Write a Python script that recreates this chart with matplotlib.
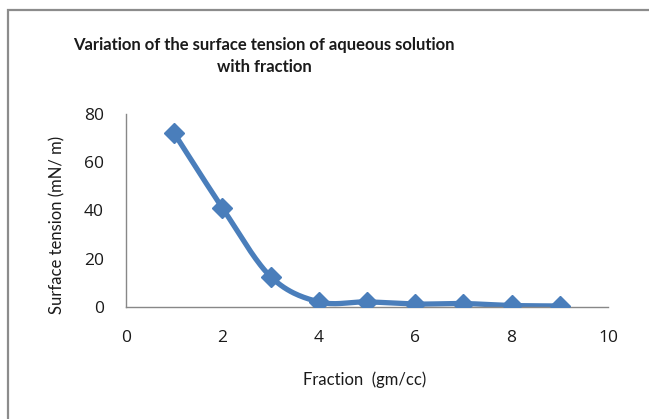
import numpy as np
import matplotlib
matplotlib.use("Agg")
import matplotlib.pyplot as plt
from matplotlib.patches import Rectangle

fraction = [1, 2, 3, 4, 5, 6, 7, 8, 9]
surface_tension = [72, 41, 12.5, 2, 2, 1.1, 1.3, 0.5, 0.3]
x_ticks = [0, 2, 4, 6, 8, 10]
y_ticks = [0, 20, 40, 60, 80]

title = "Variation of the surface tension of aqueous solution\nwith fraction"
xlabel = "Fraction  (gm/cc)"
ylabel = "Surface tension (mN/ m)"


def smooth(xs, ys, n=30):
    xs = np.asarray(xs, float)
    ys = np.asarray(ys, float)
    P = np.column_stack([xs, ys])
    P = np.vstack([P[0], P, P[-1]])
    out = []
    for i in range(1, len(P) - 2):
        p0, p1, p2, p3 = P[i - 1], P[i], P[i + 1], P[i + 2]
        t = np.linspace(0, 1, n)[:, None]
        c1 = p1 + (p2 - p0) / 6.0
        c2 = p2 - (p3 - p1) / 6.0
        seg = ((1 - t) ** 3) * p1 + 3 * ((1 - t) ** 2) * t * c1 + 3 * (1 - t) * t ** 2 * c2 + t ** 3 * p2
        out.append(seg)
    arr = np.vstack(out)
    return arr[:, 0], arr[:, 1]


W, H = 649, 419
fig = plt.figure(figsize=(W / 100, H / 100), dpi=100)
fig.patch.set_facecolor("white")
# chart border
fig.add_artist(Rectangle((8 / W, -0.05), 1.1, 1 - 10 / H + 0.05, transform=fig.transFigure,
                         fill=False, edgecolor="#8c8c8c", linewidth=1.6))

ax = fig.add_axes([126 / W, (H - 306.7) / H, (608 - 126) / W, (306.7 - 114) / H])
sx, sy = smooth(fraction, surface_tension)
ax.plot(sx, sy, color="#4A7EBB", linewidth=3.8, solid_capstyle="round", zorder=2)
ax.plot(fraction, surface_tension, linestyle="none", marker="D", markersize=10,
        color="#4A7EBB", markeredgecolor="#4A7EBB", zorder=3)

ax.set_xlim(0, 10)
ax.set_ylim(0, 80)
ax.set_xticks(x_ticks)
ax.set_yticks(y_ticks)
ax.tick_params(length=0, labelsize=12.5, colors="#1a1a1a")
ax.tick_params(axis="y", pad=16)
ax.tick_params(axis="x", pad=16.5)
for s in ["top", "right"]:
    ax.spines[s].set_visible(False)
for s in ["left", "bottom"]:
    ax.spines[s].set_color("#888888")
    ax.spines[s].set_linewidth(1.0)

for lab in ax.get_xticklabels() + ax.get_yticklabels():
    lab.set_fontfamily("Open Sans")

font = "Lato"
fig.text(365 / W, 1 - 380 / H, xlabel, ha="center", va="center",
         fontsize=12, fontfamily=font, color="#1a1a1a")
fig.text(57 / W, 1 - 225 / H, ylabel, ha="center", va="center", rotation=90,
         fontsize=12, fontfamily=font, color="#1a1a1a")
fig.text(264 / W, 1 - 56 / H, title, ha="center", va="center",
         fontsize=12, fontweight="bold", fontfamily=font, linespacing=1.45, color="#1a1a1a")

fig.savefig("out.png", dpi=100)
